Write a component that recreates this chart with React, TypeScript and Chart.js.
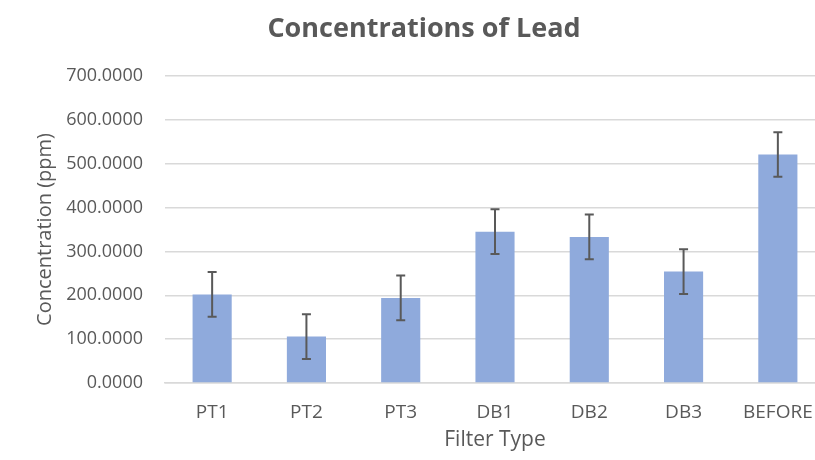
import React, { useEffect, useRef } from "react";
import { Chart, registerables } from "chart.js";

Chart.register(...registerables);

const categories = ["PT1", "PT2", "PT3", "DB1", "DB2", "DB3", "BEFORE"];
const concentrations = [202, 106, 194, 345, 333, 254, 521];
const errors = [51, 51, 51, 51, 51, 51, 51];
const yTickMax = 700;
const yTickStep = 100;

const FONT = "'Open Sans', sans-serif";
const GRAY = "#595959";

const errorBarPlugin = {
  id: "errorBars",
  afterDatasetsDraw(chart: any) {
    const ctx = chart.ctx;
    const meta = chart.getDatasetMeta(0);
    const yScale = chart.scales.y;
    ctx.save();
    ctx.strokeStyle = GRAY;
    ctx.lineWidth = 2;
    meta.data.forEach((bar: any, i: number) => {
      const v = concentrations[i];
      const e = errors[i];
      const x = bar.x;
      const yTop = yScale.getPixelForValue(v + e);
      const yBot = yScale.getPixelForValue(v - e);
      ctx.beginPath();
      ctx.moveTo(x, yTop);
      ctx.lineTo(x, yBot);
      ctx.moveTo(x - 4.5, yTop);
      ctx.lineTo(x + 4.5, yTop);
      ctx.moveTo(x - 4.5, yBot);
      ctx.lineTo(x + 4.5, yBot);
      ctx.stroke();
    });
    ctx.restore();
  },
};

const titlePlugin = {
  id: "customTitle",
  afterDraw(chart: any) {
    const ctx = chart.ctx;
    ctx.save();
    ctx.fillStyle = GRAY;
    ctx.font = `bold 27px ${FONT}`;
    ctx.textAlign = "center";
    ctx.textBaseline = "alphabetic";
    ctx.fillText("Concentrations of Lead", 424, 37);
    ctx.restore();
  },
};

export default function App() {
  const ref = useRef<HTMLCanvasElement>(null);

  useEffect(() => {
    if (!ref.current) return;
    const chart = new Chart(ref.current, {
      type: "bar",
      data: {
        labels: categories,
        datasets: [
          {
            data: concentrations,
            backgroundColor: "#8FAADC",
            borderWidth: 0,
            barPercentage: 0.415,
            categoryPercentage: 1,
          },
        ],
      },
      options: {
        animation: false,
        responsive: false,
        maintainAspectRatio: false,
        layout: { padding: { top: 76, right: 5, bottom: 0, left: 0 } },
        plugins: {
          legend: { display: false },
          tooltip: { enabled: false },
          title: { display: false },
        },
        scales: {
          x: {
            grid: { display: false },
            border: { display: true, color: "#D9D9D9", width: 1.5 },
            ticks: {
              color: GRAY,
              font: { family: FONT, size: 19 },
              padding: 10,
            },
            title: {
              display: true,
              text: "Filter Type",
              color: GRAY,
              font: { family: FONT, size: 21 },
              padding: { top: 0, bottom: 7 },
            },
            afterFit(scale: any) {
              scale.height = 460 - 383;
            },
          },
          y: {
            min: 0,
            max: yTickMax,
            ticks: {
              stepSize: yTickStep,
              color: GRAY,
              font: { family: FONT, size: 18 },
              padding: 22,
              callback: (v: any) => Number(v).toFixed(4),
            },
            grid: { color: "#D9D9D9", lineWidth: 1.5, drawTicks: false },
            border: { display: false },
            title: {
              display: true,
              text: "Concentration (ppm)",
              color: GRAY,
              font: { family: FONT, size: 20 },
              padding: { top: 33, bottom: 0 },
            },
            afterFit(scale: any) {
              scale.width = 165;
            },
          },
        },
      },
      plugins: [errorBarPlugin, titlePlugin],
    });
    return () => chart.destroy();
  }, []);

  return (
    <div
      style={{
        position: "absolute",
        left: 0,
        top: 0,
        width: 815,
        height: 460,
        overflow: "hidden",
        background: "#fff",
      }}
    >
      <canvas ref={ref} width={830} height={460} style={{ display: "block" }} />
    </div>
  );
}
